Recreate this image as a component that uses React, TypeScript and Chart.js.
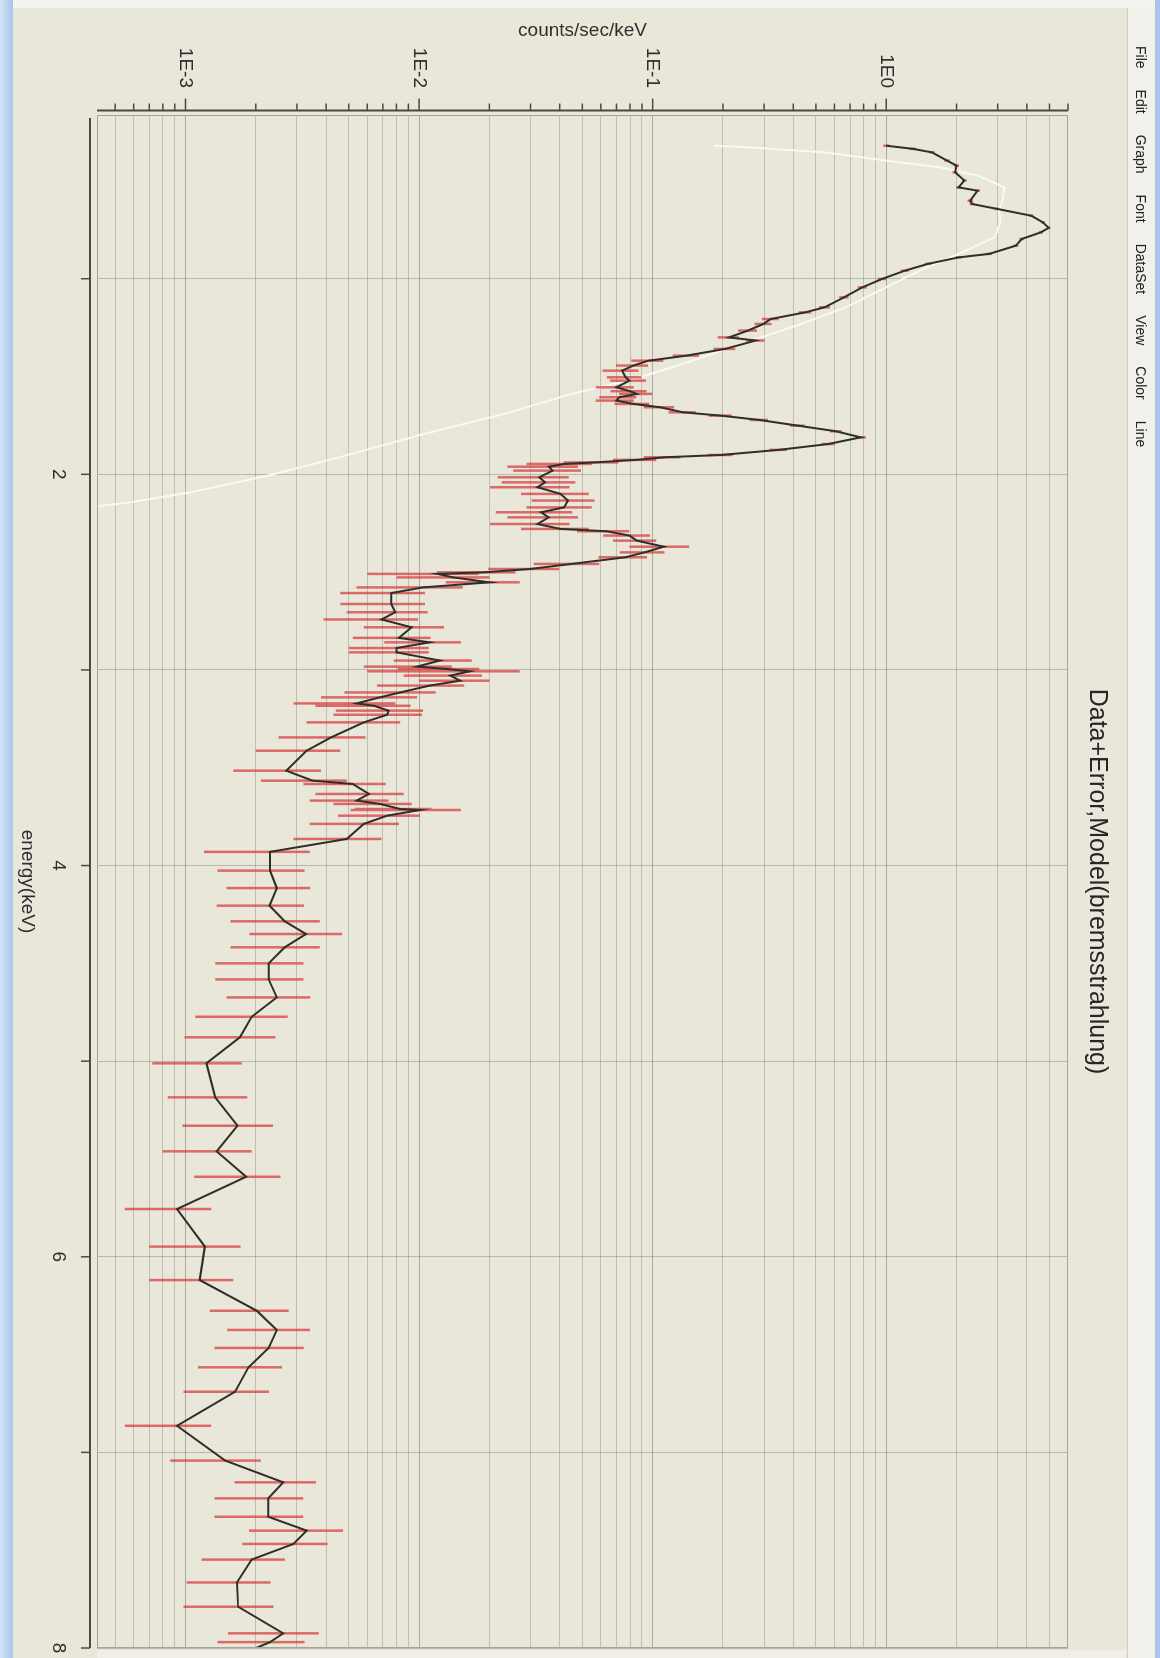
import React, { useEffect, useRef } from 'react';
import { Chart, registerables } from 'chart.js';

Chart.register(...registerables);

const TITLE = 'Data+Error,Model(bremsstrahlung)';
const X_TITLE = 'energy(keV)';
const Y_TITLE = 'counts/sec/keV';
const MENU_ITEMS = ['File', 'Edit', 'Graph', 'Font', 'DataSet', 'View', 'Color', 'Line'];

const ENERGY_MIN = 0.163;
const ENERGY_MAX = 8;
const COUNTS_MIN = 4.18e-4;
const COUNTS_MAX = 6;

const ENERGY_TICKS = [1, 2, 3, 4, 5, 6, 7, 8];
const ENERGY_TICK_LABELS = ['', '2', '', '4', '', '6', '', '8'];

const COUNT_TICKS = [
  5e-4, 6e-4, 7e-4, 8e-4, 9e-4,
  1e-3, 2e-3, 3e-3, 4e-3, 5e-3, 6e-3, 7e-3, 8e-3, 9e-3,
  1e-2, 2e-2, 3e-2, 4e-2, 5e-2, 6e-2, 7e-2, 8e-2, 9e-2,
  0.1, 0.2, 0.3, 0.4, 0.5, 0.6, 0.7, 0.8, 0.9,
  1, 2, 3, 4, 5, 6,
];
const COUNT_DECADES = [1e-3, 1e-2, 0.1, 1];
const COUNT_DECADE_LABELS = ['1E-3', '1E-2', '1E-1', '1E0'];

// observed spectrum (keV, counts/sec/keV, 1-sigma error)
const DATA_ENERGY = [
  0.320, 0.336, 0.354, 0.396, 0.422, 0.456, 0.498, 0.533, 0.550, 0.601,
  0.618, 0.643, 0.678, 0.712, 0.740, 0.763, 0.797, 0.831, 0.873, 0.891,
  0.924, 0.959, 1.001, 1.044, 1.095, 1.146, 1.172, 1.206, 1.231, 1.265,
  1.300, 1.316, 1.359, 1.393, 1.419, 1.444, 1.470, 1.504, 1.521, 1.555,
  1.575, 1.589, 1.606, 1.623, 1.640, 1.657, 1.683, 1.700, 1.722, 1.751,
  1.780, 1.811, 1.845, 1.875, 1.901, 1.913, 1.926, 1.939, 1.947, 1.961,
  1.981, 2.015, 2.041, 2.066, 2.100, 2.134, 2.169, 2.194, 2.220, 2.254,
  2.279, 2.291, 2.313, 2.339, 2.370, 2.399, 2.424, 2.458, 2.484, 2.501,
  2.509, 2.527, 2.552, 2.578, 2.607, 2.663, 2.705, 2.742, 2.782, 2.836,
  2.859, 2.888, 2.910, 2.952, 2.983, 2.995, 3.007, 3.029, 3.055, 3.080,
  3.115, 3.140, 3.171, 3.183, 3.208, 3.229, 3.268, 3.345, 3.413, 3.515,
  3.566, 3.583, 3.634, 3.668, 3.685, 3.711, 3.716, 3.745, 3.787, 3.864,
  3.930, 4.026, 4.115, 4.205, 4.285, 4.350, 4.418, 4.500, 4.582, 4.674,
  4.773, 4.878, 5.011, 5.185, 5.330, 5.461, 5.591, 5.756, 5.948, 6.119,
  6.276, 6.374, 6.466, 6.565, 6.690, 6.864, 7.042, 7.153, 7.235, 7.329,
  7.400, 7.468, 7.548, 7.665, 7.789, 7.925, 7.970, 8.050,
];
const DATA_COUNTS = [
  1.00, 1.30, 1.57, 1.82, 2.00, 1.97, 2.16, 2.04, 2.46, 2.29,
  2.33, 2.98, 4.18, 4.69, 4.96, 4.59, 3.80, 3.59, 2.76, 2.04,
  1.51, 1.20, 0.96, 0.79, 0.66, 0.545, 0.45, 0.32, 0.298, 0.256,
  0.212, 0.276, 0.204, 0.140, 0.096, 0.0826, 0.0740, 0.0766, 0.0796, 0.0700,
  0.0800, 0.0857, 0.0720, 0.0700, 0.0826, 0.1075, 0.135, 0.196, 0.286, 0.418,
  0.61, 0.778, 0.565, 0.346, 0.196, 0.1116, 0.0857, 0.0565, 0.0418, 0.0359,
  0.0373, 0.0327, 0.0346, 0.0321, 0.0403, 0.0434, 0.0418, 0.0333, 0.0359, 0.0321,
  0.0403, 0.0634, 0.0795, 0.0857, 0.1116, 0.0923, 0.0766, 0.0450, 0.0298, 0.0189,
  0.0120, 0.0140, 0.0200, 0.0104, 0.0076, 0.0076, 0.0079, 0.0069, 0.0093, 0.0082,
  0.0111, 0.0080, 0.0080, 0.0123, 0.0098, 0.0131, 0.0165, 0.0136, 0.0150, 0.0111,
  0.0083, 0.0068, 0.0054, 0.0064, 0.0074, 0.0073, 0.0058, 0.0042, 0.0033, 0.0027,
  0.0035, 0.0052, 0.0061, 0.0054, 0.0068, 0.0083, 0.0101, 0.0073, 0.0058, 0.0049,
  0.0023, 0.0023, 0.00246, 0.00229, 0.00266, 0.00328, 0.00266, 0.00227, 0.00227, 0.00246,
  0.00192, 0.00171, 0.00123, 0.00134, 0.00167, 0.00136, 0.00182, 0.00092, 0.00121, 0.00115,
  0.00202, 0.00246, 0.00227, 0.00186, 0.00163, 0.00092, 0.00148, 0.00262, 0.00226, 0.00226,
  0.00330, 0.00290, 0.00192, 0.00166, 0.00168, 0.00262, 0.00230, 0.00160,
];
const DATA_ERROR = [
  0.03, 0.04, 0.04, 0.05, 0.05, 0.05, 0.05, 0.05, 0.06, 0.06,
  0.06, 0.07, 0.08, 0.09, 0.09, 0.09, 0.08, 0.08, 0.07, 0.06,
  0.05, 0.045, 0.04, 0.035, 0.03, 0.03, 0.028, 0.026, 0.025, 0.024,
  0.022, 0.025, 0.022, 0.018, 0.015, 0.013, 0.013, 0.013, 0.014, 0.013,
  0.014, 0.014, 0.013, 0.013, 0.014, 0.016, 0.018, 0.022, 0.026, 0.03,
  0.035, 0.04, 0.035, 0.03, 0.024, 0.02, 0.018, 0.015, 0.013, 0.012,
  0.012, 0.011, 0.012, 0.012, 0.013, 0.013, 0.013, 0.012, 0.012, 0.012,
  0.013, 0.016, 0.018, 0.018, 0.032, 0.02, 0.018, 0.014, 0.01, 0.007,
  0.006, 0.006, 0.007, 0.005, 0.003, 0.003, 0.003, 0.003, 0.0035, 0.003,
  0.004, 0.003, 0.003, 0.0045, 0.004, 0.005, 0.0105, 0.005, 0.005, 0.0045,
  0.0035, 0.003, 0.0025, 0.0028, 0.003, 0.003, 0.0025, 0.0017, 0.0013, 0.0011,
  0.0014, 0.002, 0.0025, 0.002, 0.0025, 0.003, 0.005, 0.0028, 0.0024, 0.002,
  0.0011, 0.00093, 0.00096, 0.00093, 0.0011, 0.0014, 0.0011, 0.00093, 0.00093, 0.00096,
  0.00082, 0.00072, 0.00051, 0.0005, 0.0007, 0.00056, 0.00073, 0.00037, 0.00051, 0.00045,
  0.00075, 0.00095, 0.00094, 0.00073, 0.00065, 0.00037, 0.00062, 0.001, 0.00093, 0.00093,
  0.00143, 0.00115, 0.00075, 0.00065, 0.0007, 0.0011, 0.00093, 0.0007,
];

// bremsstrahlung model curve
const MODEL_ENERGY = [
  0.320, 0.328, 0.354, 0.396, 0.430, 0.473, 0.533, 0.600, 0.653, 0.703,
  0.788, 0.873, 0.957, 1.065, 1.146, 1.227, 1.335, 1.427, 1.513, 1.589,
  1.687, 1.795, 1.914, 2.011, 2.092, 2.146, 2.162, 2.250,
];
const MODEL_COUNTS = [
  0.182, 0.256, 0.545, 1.00, 1.69, 2.47, 3.21, 3.15, 3.03, 3.09,
  2.92, 2.04, 1.40, 0.92, 0.67, 0.443, 0.238, 0.141, 0.0836, 0.0448,
  0.0239, 0.0104, 0.00452, 0.00218, 0.00105, 0.00056, 0.00043, 0.00020,
];

const FONT = "'Liberation Sans', Arial, sans-serif";
const BG = '#e9e7da';
const W = 1658;
const H = 1160;

const bgPlugin = {
  id: 'bgPlugin',
  beforeDraw(chart: any) {
    const ctx = chart.ctx;
    ctx.save();
    ctx.fillStyle = BG;
    ctx.fillRect(0, 0, chart.width, chart.height);
    ctx.restore();
  },
};

const axesPlugin = {
  id: 'axesPlugin',
  afterDraw(chart: any) {
    const { ctx, chartArea } = chart;
    const xs = chart.scales.x;
    const ys = chart.scales.y;
    ctx.save();
    // plot frame
    ctx.strokeStyle = '#a4a39a';
    ctx.lineWidth = 1;
    ctx.strokeRect(chartArea.left + 0.5, chartArea.top + 0.5, chartArea.right - chartArea.left - 1, chartArea.bottom - chartArea.top - 1);

    ctx.strokeStyle = '#4b4a40';
    // log axis (left, offset)
    const ax = chartArea.left - 4.5;
    ctx.lineWidth = 2;
    ctx.beginPath();
    ctx.moveTo(ax, chartArea.bottom);
    ctx.lineTo(ax, chartArea.top);
    ctx.stroke();
    ctx.lineWidth = 1.5;
    COUNT_TICKS.forEach((v) => {
      const y = ys.getPixelForValue(v);
      const major = COUNT_DECADES.some((d) => Math.abs(d - v) < d * 1e-9);
      const len = major ? 12 : 7;
      ctx.beginPath();
      ctx.moveTo(ax, y);
      ctx.lineTo(ax - len, y);
      ctx.stroke();
    });
    // energy axis (bottom, offset)
    const ay = chartArea.bottom + 7;
    ctx.lineWidth = 2;
    ctx.beginPath();
    ctx.moveTo(chartArea.left + 3, ay);
    ctx.lineTo(chartArea.right, ay);
    ctx.stroke();
    ctx.lineWidth = 1.5;
    ENERGY_TICKS.forEach((v) => {
      const x = xs.getPixelForValue(v);
      ctx.beginPath();
      ctx.moveTo(x, ay);
      ctx.lineTo(x, ay + 9);
      ctx.stroke();
    });
    ctx.restore();
  },
};

export default function App() {
  const ref = useRef<HTMLCanvasElement | null>(null);

  useEffect(() => {
    if (!ref.current) return;
    const dataPoints = DATA_ENERGY.map((e, i) => ({ x: e, y: DATA_COUNTS[i] }));
    const errorPoints: any[] = [];
    DATA_ENERGY.forEach((e, i) => {
      const c = DATA_COUNTS[i];
      const d = DATA_ERROR[i];
      errorPoints.push({ x: e, y: Math.max(c - d, 1e-6) });
      errorPoints.push({ x: e, y: c + d });
      errorPoints.push({ x: e, y: null });
    });
    const modelPoints = MODEL_ENERGY.map((e, i) => ({ x: e, y: MODEL_COUNTS[i] }));

    const chart = new Chart(ref.current, {
      type: 'line',
      data: {
        datasets: [
          {
            label: 'data',
            data: dataPoints,
            borderColor: '#2e2e2a',
            borderWidth: 2,
            pointRadius: 0,
            tension: 0,
            order: 1,
          },
          {
            label: 'error',
            data: errorPoints,
            borderColor: 'rgba(214,58,58,0.72)',
            borderWidth: 2.5,
            pointRadius: 0,
            spanGaps: false,
            order: 2,
          },
          {
            label: 'model',
            data: modelPoints,
            borderColor: '#faf9f2',
            borderWidth: 2,
            pointRadius: 0,
            tension: 0,
            order: 3,
          },
        ] as any,
      },
      options: {
        responsive: false,
        animation: false,
        events: [],
        layout: { padding: { left: 0, right: 10, top: 0, bottom: 0 } },
        plugins: {
          legend: { display: false },
          tooltip: { enabled: false },
          title: {
            display: true,
            text: TITLE,
            fullSize: false,
            color: '#262626',
            font: { family: FONT, size: 25, weight: 'normal' },
            padding: { top: 48, bottom: 14 },
          },
        },
        scales: {
          x: {
            type: 'linear',
            position: 'bottom',
            min: ENERGY_MIN,
            max: ENERGY_MAX,
            afterBuildTicks: (s: any) => {
              s.ticks = ENERGY_TICKS.map((v) => ({ value: v }));
            },
            afterFit: (s: any) => {
              s.height = 97;
              s.paddingLeft = 0;
              s.paddingRight = 0;
            },
            ticks: {
              autoSkip: false,
              maxRotation: 0,
              minRotation: 0,
              padding: 27,
              color: '#2e2e2e',
              font: { family: FONT, size: 19 },
              callback: (v: any) => {
                const k = ENERGY_TICKS.indexOf(Number(v));
                return k >= 0 ? ENERGY_TICK_LABELS[k] : '';
              },
            },
            grid: {
              color: 'rgba(120,120,108,0.42)',
              lineWidth: 1,
              drawTicks: false,
            },
            border: { display: false },
            title: {
              display: true,
              text: X_TITLE,
              color: '#2e2e2e',
              font: { family: FONT, size: 19 },
              padding: { top: 0, bottom: 16 },
            },
          },
          y: {
            type: 'logarithmic',
            position: 'left',
            min: COUNTS_MIN,
            max: COUNTS_MAX,
            afterBuildTicks: (s: any) => {
              s.ticks = COUNT_TICKS.map((v) => ({ value: v }));
            },
            afterFit: (s: any) => {
              s.width = 115;
              s.paddingTop = 0;
              s.paddingBottom = 0;
            },
            ticks: {
              autoSkip: false,
              padding: 27,
              color: '#2e2e2e',
              font: { family: FONT, size: 19 },
              callback: (v: any) => {
                const n = Number(v);
                const k = COUNT_DECADES.findIndex((d) => Math.abs(d - n) < d * 1e-9);
                return k >= 0 ? COUNT_DECADE_LABELS[k] : '';
              },
            },
            grid: {
              color: (c: any) => {
                const n = c.tick ? c.tick.value : 0;
                const major = COUNT_DECADES.some((d) => Math.abs(d - n) < d * 1e-9);
                return major ? 'rgba(110,110,100,0.5)' : 'rgba(120,120,108,0.36)';
              },
              lineWidth: 1,
              drawTicks: false,
            },
            border: { display: false },
            title: {
              display: true,
              text: Y_TITLE,
              color: '#2e2e2e',
              font: { family: FONT, size: 19 },
              padding: { top: 19, bottom: 0 },
            },
          },
        },
      } as any,
      plugins: [bgPlugin, axesPlugin],
    });
    return () => chart.destroy();
  }, []);

  return (
    <div
      style={{
        position: 'fixed',
        left: 0,
        top: 0,
        width: 1160,
        height: 1658,
        overflow: 'hidden',
        background: BG,
      }}
    >
      <div
        style={{
          position: 'absolute',
          left: 0,
          top: 0,
          width: W,
          height: H,
          transformOrigin: '0 0',
          transform: 'translateX(1160px) rotate(90deg)',
        }}
      >
        <canvas
          ref={ref}
          width={W}
          height={H}
          style={{ position: 'absolute', left: 0, top: 0, width: W, height: H }}
        />
        {/* window frame: top edge */}
        <div style={{ position: 'absolute', left: 0, top: 0, width: W, height: 5, background: '#a7c4ea' }} />
        {/* menu bar */}
        <div
          style={{
            position: 'absolute',
            left: 0,
            top: 5,
            width: W,
            height: 28,
            background: '#f1f0ea',
            borderBottom: '1px solid #cfcdc2',
            display: 'flex',
            alignItems: 'center',
            paddingLeft: 46,
            boxSizing: 'border-box',
            fontFamily: FONT,
            fontSize: 14,
            color: '#222',
          }}
        >
          {MENU_ITEMS.map((m) => (
            <span key={m} style={{ marginRight: 21 }}>
              {m}
            </span>
          ))}
        </div>
        {/* window frame: left strip (page top) */}
        <div style={{ position: 'absolute', left: 0, top: 5, width: 8, height: H - 5, background: '#f3f3ef' }} />
        {/* window frame: right strip (page bottom), only beside the plot */}
        <div style={{ position: 'absolute', left: W - 8, top: 34, width: 8, height: 1029, background: '#efeee8' }} />
        {/* window frame: bottom edge (page left) */}
        <div
          style={{
            position: 'absolute',
            left: 0,
            top: H - 13,
            width: W,
            height: 13,
            background: 'linear-gradient(to bottom, #a9c5ea, #d3e2f5)',
          }}
        />
      </div>
    </div>
  );
}
